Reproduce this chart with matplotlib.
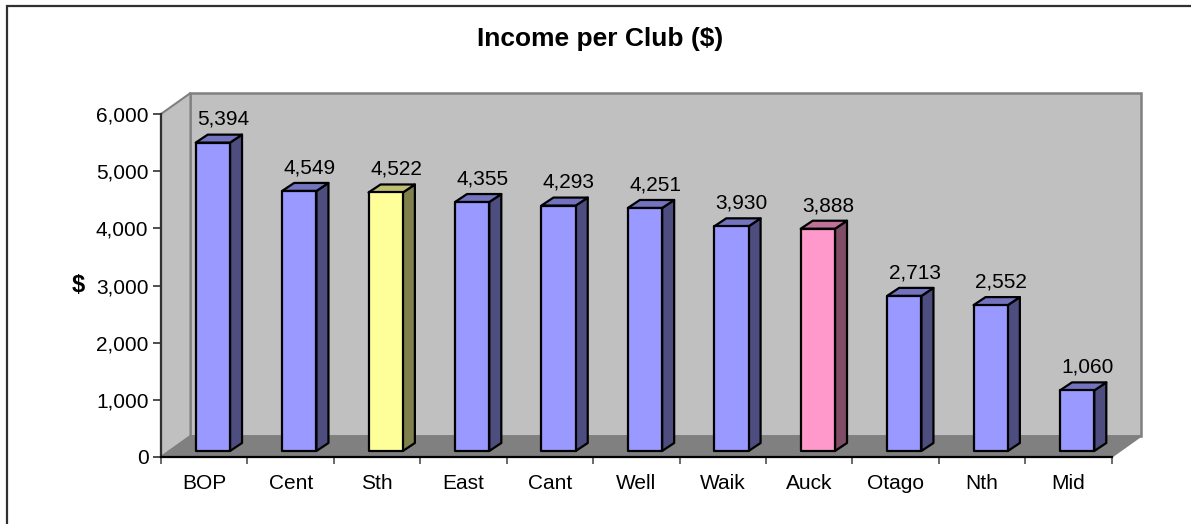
import matplotlib
matplotlib.use("Agg")
import matplotlib.pyplot as plt
from matplotlib.patches import Polygon, Rectangle
from matplotlib.ticker import FuncFormatter, FixedLocator, NullFormatter

# data
clubs = ["BOP", "Cent", "Sth", "East", "Cant", "Well", "Waik", "Auck", "Otago", "Nth", "Mid"]
income = [5394, 4549, 4522, 4355, 4293, 4251, 3930, 3888, 2713, 2552, 1060]
y_ticks = [0, 1000, 2000, 3000, 4000, 5000, 6000]

# face colours (front, side, top)
BLUE = ("#9999FF", "#4D4D80", "#7373BF")
HIGHLIGHT = {"Sth": ("#FFFF99", "#80804D", "#BFBF73"),
             "Auck": ("#FF99CC", "#804D66", "#BF7399")}

plt.rcParams.update({"font.family": "Liberation Sans", "font.size": 15})

W, H = 1191, 524
fig = plt.figure(figsize=(W / 100, H / 100), dpi=100)
ax = fig.add_axes([161 / W, (H - 457) / H, 950.7 / W, 343 / H])
ax.patch.set_visible(False)
n = len(clubs)
ymax = y_ticks[-1]
ax.set_xlim(0, n)
ax.set_ylim(0, ymax)

# wall depth (in data units) and bar geometry
ddx, ddy = 0.341, 367
bdx, bdy = 0.139, 140
off_x, off_y = 0.10, 105
bw = 0.397
wall_edge = "#808080"

floor = Polygon([(0, 0), (n, 0), (n + ddx, ddy), (ddx, ddy)], closed=True,
                fc="#808080", ec=wall_edge, lw=1.2, clip_on=False, zorder=0)
back = Polygon([(ddx, ddy), (n + ddx, ddy), (n + ddx, ymax + ddy), (ddx, ymax + ddy)],
               closed=True, fc="#C0C0C0", ec=wall_edge, lw=1.8, clip_on=False, zorder=0)
side = Polygon([(0, 0), (ddx, ddy), (ddx, ymax + ddy), (0, ymax)], closed=True,
               fc="#C0C0C0", ec=wall_edge, lw=1.5, clip_on=False, zorder=0)
for p in (back, side, floor):
    ax.add_patch(p)

for i, (club, v) in enumerate(zip(clubs, income)):
    front_c, side_c, top_c = HIGHLIGHT.get(club, BLUE)
    x0 = i + 0.5 + off_x - bw / 2
    x1 = x0 + bw
    b, t = off_y, off_y + v
    kw = dict(closed=True, ec="black", lw=1.6, joinstyle="round", clip_on=False, zorder=3)
    ax.add_patch(Polygon([(x1, b), (x1 + bdx, b + bdy), (x1 + bdx, t + bdy), (x1, t)], fc=side_c, **kw))
    ax.add_patch(Polygon([(x0, t), (x1, t), (x1 + bdx, t + bdy), (x0 + bdx, t + bdy)], fc=top_c, **kw))
    ax.add_patch(Polygon([(x0, b), (x1, b), (x1, t), (x0, t)], fc=front_c, **kw))
    ax.text(i + 0.72, t + 310, f"{v:,}", ha="center", va="baseline", fontsize=15, zorder=5)

for s in ("top", "right"):
    ax.spines[s].set_visible(False)
ax.spines["left"].set_color("#303030")
ax.spines["left"].set_linewidth(1.6)
ax.spines["bottom"].set_color("black")
ax.spines["bottom"].set_linewidth(1.6)
ax.spines["left"].set_zorder(4)
ax.spines["bottom"].set_zorder(4)

ax.set_yticks(y_ticks)
ax.yaxis.set_major_formatter(FuncFormatter(lambda v, _: f"{int(v):,}"))
ax.tick_params(axis="y", length=6, width=1.2, pad=3, labelsize=15, color="#303030")

ax.xaxis.set_major_locator(FixedLocator(list(range(n + 1))))
ax.xaxis.set_major_formatter(NullFormatter())
ax.xaxis.set_minor_locator(FixedLocator([i + 0.5 for i in range(n)]))
ax.set_xticklabels(clubs, minor=True)
ax.tick_params(axis="x", which="major", length=5, width=1.2, color="#505050")
ax.tick_params(axis="x", which="minor", length=0, pad=12, labelsize=15)

fig.text(600 / W, 1 - 46 / H, "Income per Club ($)", ha="center", va="baseline",
         fontsize=19, fontweight="bold")
fig.text(78 / W, 1 - 286 / H, "$", ha="center", va="center", fontsize=17, fontweight="bold")

fig.add_artist(Rectangle((7 / W, -0.5), 2, 1.5 - 6 / H, transform=fig.transFigure,
                         fill=False, ec="#303030", lw=1.6))

fig.savefig("out.png", dpi=100)
